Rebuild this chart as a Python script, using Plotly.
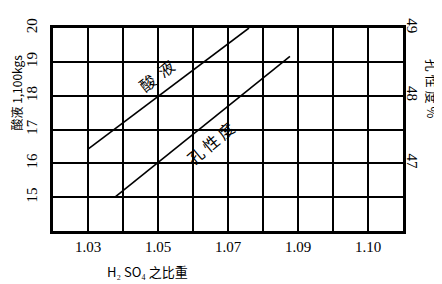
import plotly.graph_objects as go

# Data
acid_x = [1.030, 1.076]          # H2SO4 specific gravity
acid_y = [16.42, 20.0]           # 酸液 (left axis)
por_x = [1.0377, 1.0877]
por_y = [46.5, 48.58]            # 孔性度 % (right axis)

x_tickvals = [1.03, 1.05, 1.07, 1.09, 1.11]
x_ticktext = ["1.03", "1.05", "1.07", "1.09", "1.10"]
left_ticks = [15, 16, 17, 18, 19, 20]
right_ticks = [47, 48, 49]

serif = "Liberation Serif, DejaVu Serif, serif"
cjk = "Noto Sans CJK SC, Noto Sans CJK TC, serif"
tf = dict(size=15, family=serif, color="black")

fig = go.Figure()
fig.add_trace(go.Scatter(x=acid_x, y=acid_y, mode="lines",
                         line=dict(color="black", width=1.6), yaxis="y", showlegend=False))
fig.add_trace(go.Scatter(x=por_x, y=por_y, mode="lines",
                         line=dict(color="black", width=1.6), yaxis="y2", showlegend=False))

fig.update_layout(
    width=442, height=284,
    margin=dict(l=45, r=47, t=10, b=61),
    paper_bgcolor="white", plot_bgcolor="white",
    font=dict(family=serif, color="black", size=13),
    xaxis=dict(range=[1.02, 1.12], tickvals=x_tickvals, ticktext=x_ticktext,
               showgrid=False, zeroline=False, showline=True, linewidth=3,
               linecolor="black", mirror=True, ticks="", tickfont=tf, ticklabelstandoff=0),
    yaxis=dict(range=[14, 20], tickvals=left_ticks, tickangle=-90,
               showgrid=True, gridcolor="black", gridwidth=2,
               zeroline=False, showline=True, linewidth=3, linecolor="black",
               mirror=True, ticks="", tickfont=tf, ticklabelstandoff=7),
    yaxis2=dict(range=[46, 49], tickvals=right_ticks, tickangle=90, overlaying="y",
                side="right", showgrid=False, zeroline=False, showline=False,
                ticks="", tickfont=tf, ticklabelstandoff=0),
)

# vertical grid lines every 0.01
for i in range(1, 10):
    xv = round(1.02 + i * 0.01, 3)
    fig.add_shape(type="line", xref="x", yref="paper", x0=xv, x1=xv, y0=0, y1=1,
                  line=dict(color="black", width=2), layer="below")

fig.add_annotation(text="酸液 1,100kgs", xref="paper", yref="paper", x=-0.104, y=0.68,
                   xanchor="center", yanchor="middle",
                   showarrow=False, textangle=-90, font=dict(family=cjk, size=12, color="black"))
fig.add_annotation(text="孔 性 度 %", xref="paper", yref="paper", x=1.083, y=0.70,
                   xanchor="center", yanchor="middle",
                   showarrow=False, textangle=90, font=dict(family=cjk, size=13, color="black"))
fig.add_annotation(text="H₂ SO₄ 之比重", xref="paper", yref="paper", x=0.27, y=-0.2,
                   xanchor="center", yanchor="middle",
                   showarrow=False, font=dict(family=cjk, size=13, color="black"))

fig.add_annotation(text="酸  液", xref="x", yref="y", x=1.0497, y=18.6,
                   showarrow=False, textangle=-38, font=dict(family=cjk, size=16, color="black"))
fig.add_annotation(text="孔 性 度", xref="x", yref="y", x=1.0649, y=16.6,
                   showarrow=False, textangle=-40, font=dict(family=cjk, size=16, color="black"))

fig.write_html("out.html")
